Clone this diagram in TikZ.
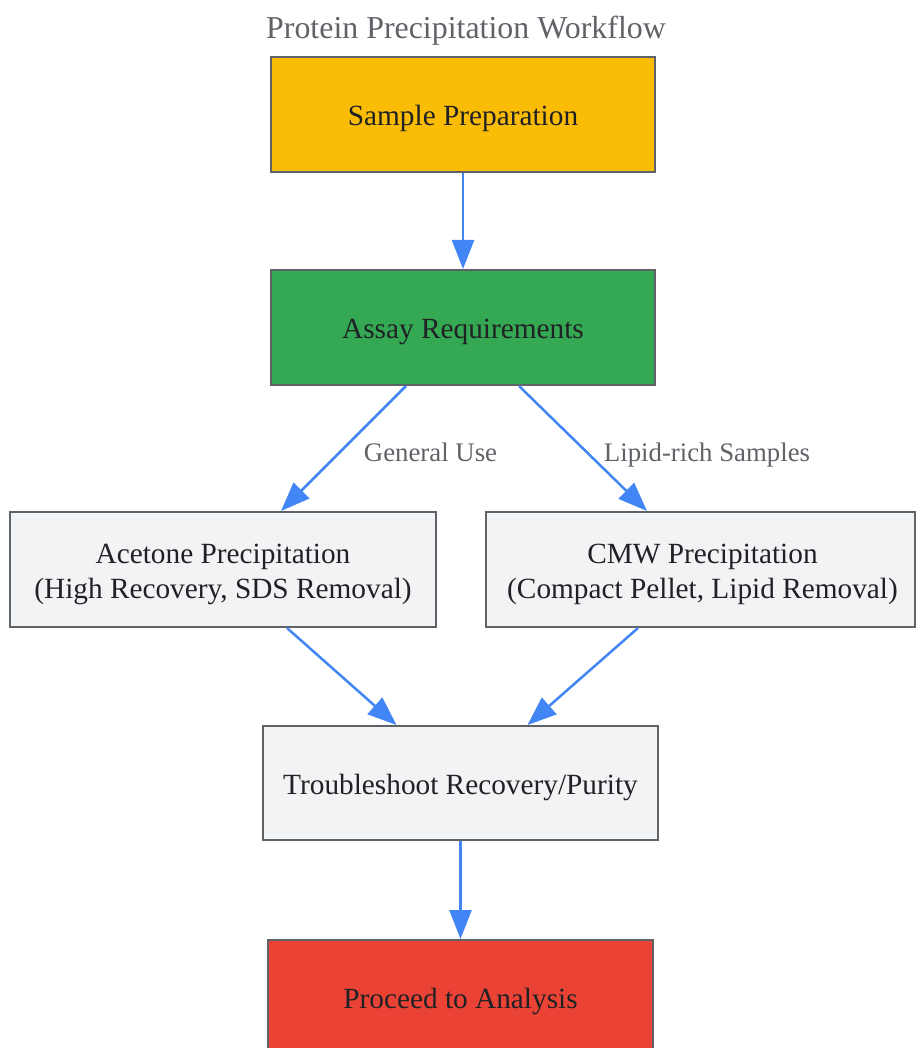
\documentclass[tikz,border=0pt]{standalone}
\usepackage{fontspec}
\setmainfont{Liberation Serif}
\usetikzlibrary{arrows.meta}
\definecolor{yel}{HTML}{FBBC05}
\definecolor{grn}{HTML}{34A853}
\definecolor{redc}{HTML}{EA4335}
\definecolor{lgray}{HTML}{F1F3F4}
\definecolor{bord}{HTML}{5F6368}
\definecolor{txt}{HTML}{202124}
\definecolor{arr}{HTML}{4285F4}
\newcommand{\dnt}[1]{\raisebox{-4pt}[\height][\depth]{\begin{tabular}{@{}c@{}}#1\end{tabular}}}
\begin{document}
\begin{tikzpicture}[x=1pt,y=-1pt,
  box/.style={draw=bord, line width=2pt, inner sep=0pt, text=txt, align=center,
    font=\fontsize{29.3}{35}\selectfont},
  conn/.style={draw=arr, line width=2.5pt, -{Triangle[length=29pt,width=22pt]}},
  lbl/.style={text=bord, font=\fontsize{26.8}{32}\selectfont, inner sep=0pt, anchor=base}]
\useasboundingbox (0,0) rectangle (916,1048);
\clip (0,0) rectangle (916,1048);
\node[text=bord, font=\fontsize{31.9}{38}\selectfont, inner sep=0pt, anchor=base] (title) at (466,39) {Protein Precipitation Workflow};
\node[box, fill=yel, minimum width=384pt, minimum height=115pt] (sample) at (463,114.5) {\dnt{Sample Preparation}};
\node[box, fill=grn, minimum width=384pt, minimum height=115pt] (assay) at (463,327.5) {\dnt{Assay Requirements}};
\node[box, fill=lgray, minimum width=426pt, minimum height=115pt] (acet) at (223,569.5) {\dnt{Acetone Precipitation\\(High Recovery, SDS Removal)}};
\node[box, fill=lgray, minimum width=429pt, minimum height=115pt] (cmw) at (700,569.5) {\hspace*{5pt}\dnt{CMW Precipitation\\(Compact Pellet, Lipid Removal)}};
\node[box, fill=lgray, minimum width=395pt, minimum height=114pt] (trouble) at (460.5,783) {\dnt{Troubleshoot Recovery/Purity}};
\node[box, fill=redc, minimum width=385pt, minimum height=115pt] (proceed) at (460.5,997.5) {\dnt{Proceed to Analysis}};
\draw[conn] (sample.south) -- (assay.north);
\draw[conn] ([xshift=-57pt]assay.south) -- ([xshift=58pt]acet.north);
\draw[conn] ([xshift=56pt]assay.south) -- ([xshift=-53pt]cmw.north);
\draw[conn] ([xshift=64pt]acet.south) -- ([xshift=-64pt]trouble.north);
\draw[conn] ([xshift=-62pt]cmw.south) -- ([xshift=67pt]trouble.north);
\draw[conn] (trouble.south) -- (proceed.north);
\node[lbl] (l1) at (430.5,461) {General Use};
\node[lbl] (l2) at (707,461) {Lipid-rich Samples};
\end{tikzpicture}
\end{document}
